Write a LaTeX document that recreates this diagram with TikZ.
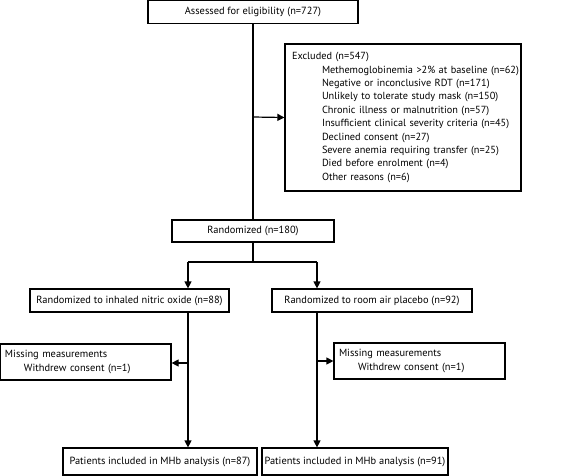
\documentclass[tikz,border=0pt]{standalone}
\usepackage{fontspec}
\setmainfont{PT Sans}
\usetikzlibrary{arrows.meta,calc}
\begin{document}
\begin{tikzpicture}[x=1pt,y=-1pt,
  box/.style={draw=black,line width=1.2pt,inner sep=0pt,font=\fontsize{10.4}{13.4}\selectfont},
  bigbox/.style={box,font=\fontsize{10.3}{13.4}\selectfont},
  conn/.style={line width=1.2pt},
  arr/.style={line width=1.2pt,-{Triangle[length=7pt,width=7pt]}}]
\useasboundingbox (0,0) rectangle (567,475);
\node[box,minimum width=210pt,minimum height=23pt] (top) at (253,12) {Assessed for eligibility (n=727)};
\node[bigbox,minimum width=236pt,minimum height=147pt,text width=222pt,inner xsep=7pt,align=left] (excl) at (403,117.5) {\mbox{Excluded (n=547)}\\
\mbox{\hspace*{30pt}Methemoglobinemia >2\% at baseline (n=62)}\\
\mbox{\hspace*{30pt}Negative or inconclusive RDT (n=171)}\\
\mbox{\hspace*{30pt}Unlikely to tolerate study mask (n=150)}\\
\mbox{\hspace*{30pt}Chronic illness or malnutrition (n=57)}\\
\mbox{\hspace*{30pt}Insufficient clinical severity criteria (n=45)}\\
\mbox{\hspace*{30pt}Declined consent (n=27)}\\
\mbox{\hspace*{30pt}Severe anemia requiring transfer (n=25)}\\
\mbox{\hspace*{30pt}Died before enrolment (n=4)}\\
\mbox{\hspace*{30pt}Other reasons (n=6)}};
\node[box,minimum width=162pt,minimum height=22pt] (rand) at (253,231) {Randomized (n=180)};
\node[box,minimum width=199pt,minimum height=23pt] (armL) at (129.5,300.5) {Randomized to inhaled nitric oxide (n=88)};
\node[box,minimum width=200pt,minimum height=23pt] (armR) at (372,300.5) {Randomized to room air placebo (n=92)};
\node[box,minimum width=171pt,minimum height=36pt,text width=161pt,inner xsep=5pt,align=left] (missL) at (85.5,362) {Missing measurements\\\hspace*{19pt}Withdrew consent (n=1)};
\node[box,minimum width=171pt,minimum height=36pt,text width=161pt,inner xsep=5pt,align=left] (missR) at (419.5,361) {Missing measurements\\\hspace*{19pt}Withdrew consent (n=1)};
\node[box,minimum width=194pt,minimum height=27pt] (botL) at (160,461.5) {Patients included in MHb analysis (n=87)};
\node[box,minimum width=186pt,minimum height=27pt] (botR) at (355,461.5) {Patients included in MHb analysis (n=91)};
\coordinate (jx) at (253,117);
\coordinate (split) at (253,262);
\coordinate (lx) at (188,262);
\coordinate (rx) at (317,262);
\coordinate (ml) at (188,363);
\coordinate (mr) at (317,361);
\draw[conn] (top.south) -- (rand.north);
\draw[arr] (jx) -- (excl.west);
\draw[conn] (rand.south) -- (split);
\draw[conn] (lx) -- (rx);
\draw[arr] (lx) -- (lx |- armL.north);
\draw[arr] (rx) -- (rx |- armR.north);
\draw[arr] (lx |- armL.south) -- (lx |- botL.north);
\draw[arr] (rx |- armR.south) -- (rx |- botR.north);
\draw[arr] (ml) -- (ml -| missL.east);
\draw[arr] (mr) -- (mr -| missR.west);
\end{tikzpicture}
\end{document}
